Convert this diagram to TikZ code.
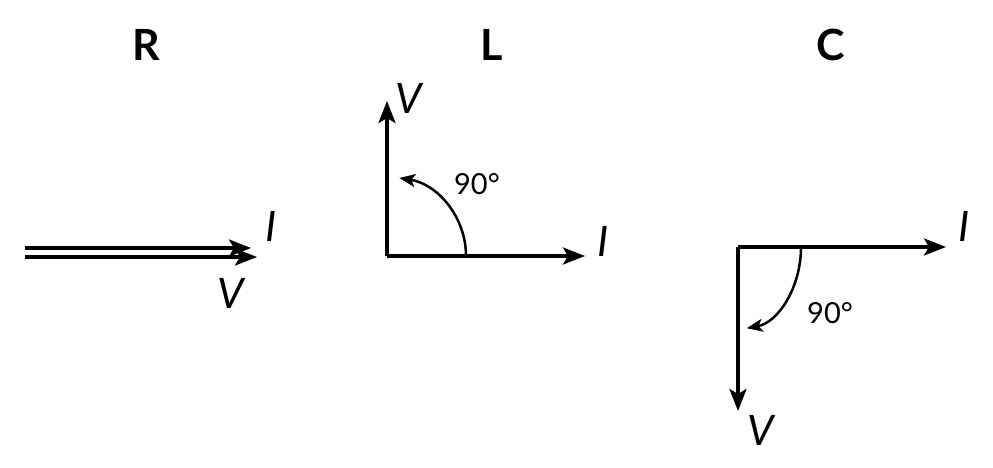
\documentclass[tikz,border=0pt]{standalone}
\usepackage{fontspec}
\setmainfont{Lato}
\usetikzlibrary{arrows.meta}
\tikzset{
  vec/.style={line width=3.4pt,-{Stealth[length=22pt,width=17pt,inset=5pt]}},
  ang/.style={line width=2.5pt,-{Stealth[length=16pt,width=13pt,inset=4pt]}},
  title/.style={font=\fontsize{43}{43}\selectfont\bfseries},
  lab/.style={font=\fontsize{42}{42}\selectfont\itshape},
  deg/.style={font=\fontsize{29}{29}\selectfont},
}
\begin{document}
\begin{tikzpicture}[x=1pt,y=-1pt]
\useasboundingbox (0,0) rectangle (993,468);
% titles
\node[title] (tR) at (146,45) {R};
\node[title] (tL) at (492,45) {L};
\node[title] (tC) at (831,45) {C};
% R
\coordinate (r1s) at (25,248);
\coordinate (r1e) at (251,248);
\coordinate (r2s) at (25,257);
\coordinate (r2e) at (257,257);
\draw[vec] (r1s) -- (r1e);
\draw[vec] (r2s) -- (r2e);
\node[lab] (rI) at (271,226) {I};
\node[lab] (rV) at (231,293) {V};
% L
\coordinate (lo) at (387,256);
\coordinate (lv) at (387,101);
\coordinate (li) at (585,256);
\draw[vec] (lo) -- (lv);
\draw[vec] (lo) -- (li);
\node[lab] (lV) at (409,98) {V};
\node[lab] (lI) at (603,241) {I};
\coordinate (la) at (466,256);
\draw[ang] (la) arc[start angle=0,end angle=-81,radius=79];
\node[deg] (l90) at (477,184) {90°};
% C
\coordinate (co) at (738,247);
\coordinate (ci) at (946,247);
\coordinate (cv) at (738,411);
\draw[vec] (co) -- (ci);
\draw[vec] (co) -- (cv);
\node[lab] (cI) at (964,226) {I};
\node[lab] (cV) at (761,430) {V};
\coordinate (ca) at (801,247);
\draw[ang] (ca) arc[start angle=0,end angle=82,x radius=63,y radius=82];
\node[deg] (c90) at (830,313) {90°};
\end{tikzpicture}
\end{document}
